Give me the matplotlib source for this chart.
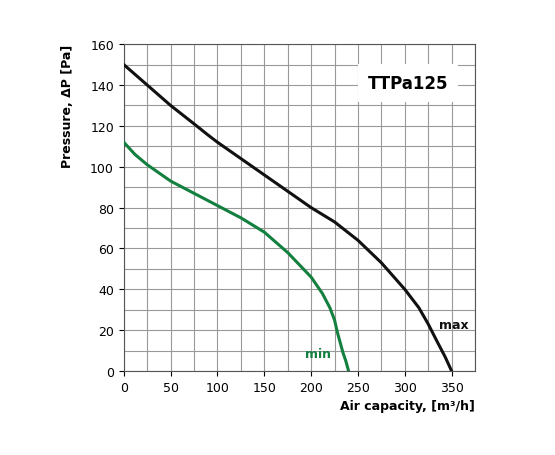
import matplotlib.pyplot as plt
from matplotlib.ticker import MultipleLocator

# Data
max_x = [0, 25, 50, 75, 90, 100, 125, 150, 175, 200, 225, 250, 275, 300, 315, 325, 335, 343, 350]
max_y = [150, 140, 130, 121, 115.5, 112, 104, 96, 88, 80, 73, 64, 53, 40, 31, 23, 14, 7, 0]
min_x = [0, 12, 25, 50, 75, 100, 125, 150, 175, 200, 212, 220, 225, 228, 231, 234, 237, 240]
min_y = [112, 106, 101, 93, 87, 81, 75, 68, 58, 46, 38, 31, 25, 19, 14, 9, 5, 0]

fig = plt.figure(figsize=(5.55, 4.56), dpi=100)
ax = fig.add_axes([0.223, 0.184, 0.633, 0.717])

ax.plot(max_x, max_y, color='#111111', linewidth=2.2, zorder=3)
ax.plot(min_x, min_y, color='#138040', linewidth=2.2, zorder=3)

ax.set_xlim(0, 375)
ax.set_ylim(0, 160)
ax.xaxis.set_major_locator(MultipleLocator(50))
ax.xaxis.set_minor_locator(MultipleLocator(25))
ax.yaxis.set_major_locator(MultipleLocator(20))
ax.yaxis.set_minor_locator(MultipleLocator(10))
ax.grid(which='both', color='#999999', linewidth=0.8)
ax.tick_params(which='minor', length=0)
ax.tick_params(labelsize=9)
for s in ax.spines.values():
    s.set_color('#555555')

ax.text(337, 21, 'max', fontsize=9, fontweight='bold', color='#111111', zorder=4)
ax.text(193, 7, 'min', fontsize=9, fontweight='bold', color='#138040', zorder=4)
ax.text(303, 141, 'TTPa125', fontsize=12, fontweight='bold', ha='center', va='center',
        bbox=dict(facecolor='white', edgecolor='none', pad=7), zorder=4)

ax.set_xlabel('Air capacity, [m³/h]', fontsize=9, fontweight='bold', loc='right')
ax.set_ylabel('Pressure, ΔP [Pa]', fontsize=9, fontweight='bold', loc='top', labelpad=12)

fig.savefig('out.png', dpi=100)
